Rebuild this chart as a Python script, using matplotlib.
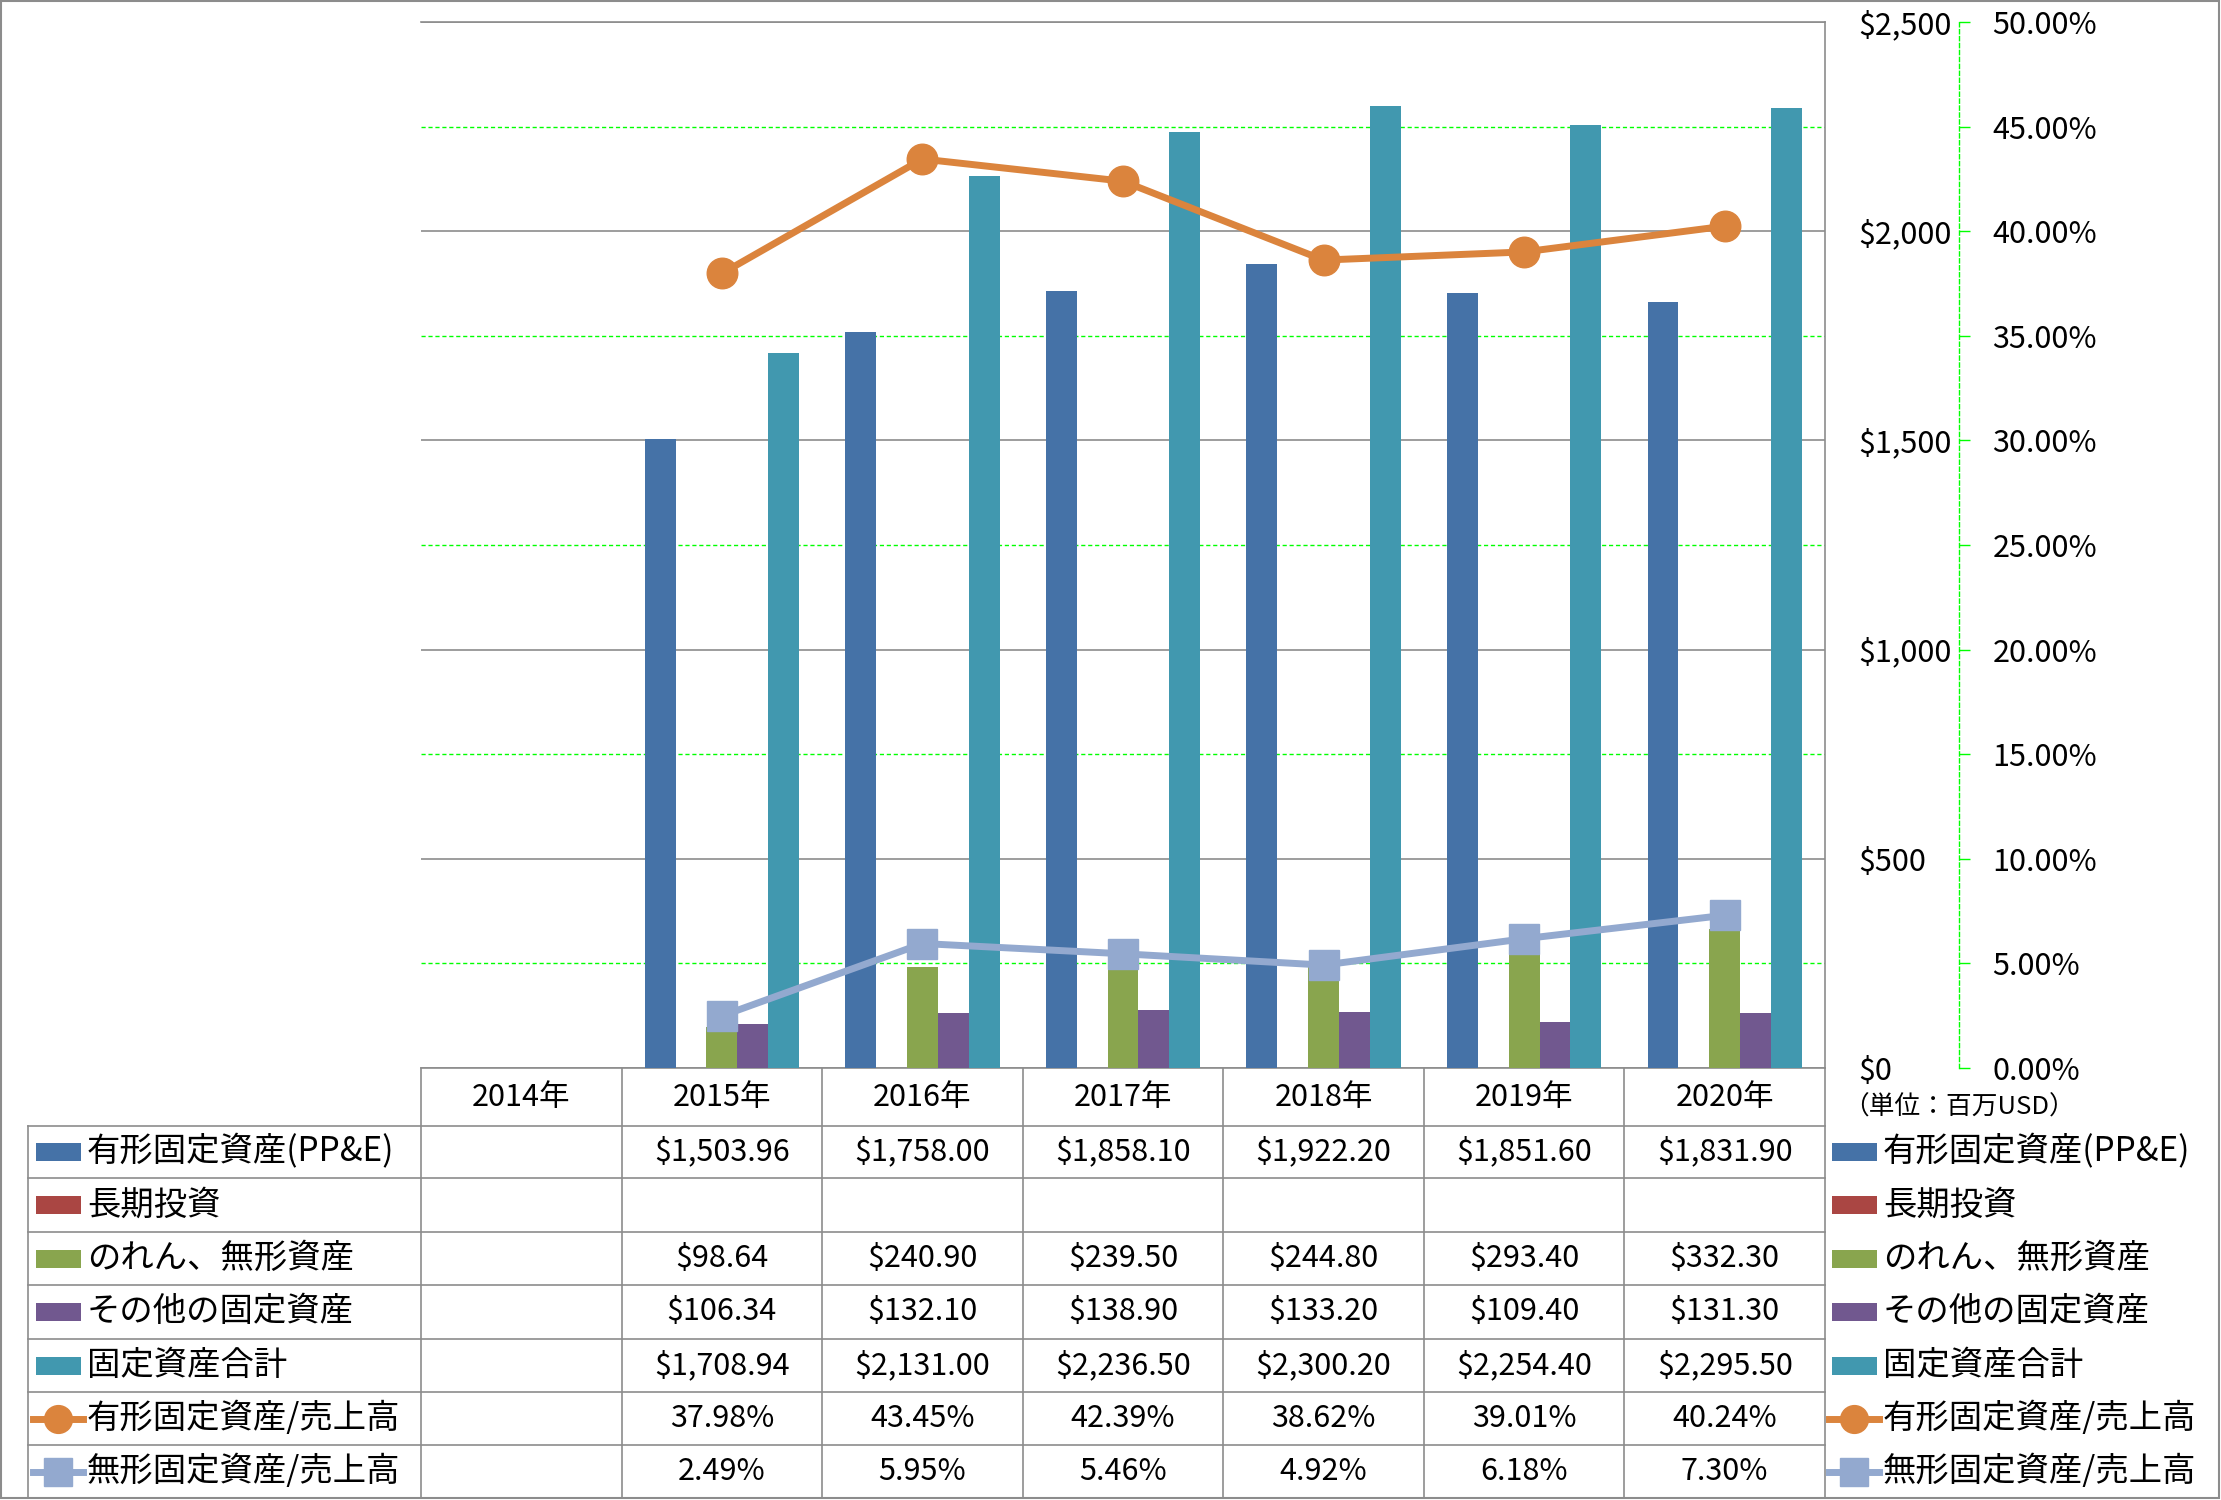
#固定資産の推移 - bar + line chart with Excel-style data table
import numpy as np
import matplotlib.pyplot as plt
from matplotlib import transforms
from matplotlib.patches import Rectangle

plt.rcParams['font.family'] = ['Noto Sans CJK JP', 'DejaVu Sans']

years = ["2014年", "2015年", "2016年", "2017年", "2018年", "2019年", "2020年"]

ppe = [np.nan, 1503.96, 1758.00, 1858.10, 1922.20, 1851.60, 1831.90]
lt_invest = [np.nan] * 7
goodwill = [np.nan, 98.64, 240.90, 239.50, 244.80, 293.40, 332.30]
other = [np.nan, 106.34, 132.10, 138.90, 133.20, 109.40, 131.30]
total = [np.nan, 1708.94, 2131.00, 2236.50, 2300.20, 2254.40, 2295.50]

ppe_ratio = [np.nan, 37.98, 43.45, 42.39, 38.62, 39.01, 40.24]
intang_ratio = [np.nan, 2.49, 5.95, 5.46, 4.92, 6.18, 7.30]

bar_names = ["有形固定資産(PP&E)", "長期投資", "のれん、無形資産", "その他の固定資産", "固定資産合計"]
bar_colors = ["#4572A7", "#AA4643", "#89A54E", "#71588F", "#4198AF"]
line_names = ["有形固定資産/売上高", "無形固定資産/売上高"]
line_colors = ["#DB843D", "#93A9CF"]
line_markers = ["o", "s"]

W, H = 2221, 1500
fig = plt.figure(figsize=(W / 100, H / 100), dpi=100)

grey = "#8C8C8C"
green = "#00FF00"

# plot area
ax = fig.add_axes([421 / W, (H - 1068) / H, (1825 - 421) / W, (1068 - 22) / H])
ax.set_xlim(-0.5, len(years) - 0.5)
ax.set_ylim(0, 2500)

x = np.arange(len(years))
bw = 1 / 6.5
series = [ppe, lt_invest, goodwill, other, total]
for k, (vals, c) in enumerate(zip(series, bar_colors)):
    ax.bar(x + (k - 2) * bw, vals, width=bw, color=c, zorder=3)

# grey grid on the $ axis, green dashed grid for the % axis in between
ax.set_yticks(np.arange(0, 2501, 500))
ax.grid(axis='y', color=grey, lw=1.2, zorder=1)
pct_grid = np.array([5, 15, 25, 35, 45])
ax.hlines(pct_grid * 2500 / 50, -0.5, len(years) - 0.5, colors=green,
          linestyles=(0, (3, 2)), lw=1.0, zorder=1)
ax.set_xticks([])
ax.spines['left'].set_visible(False)
for s in ['top', 'right', 'bottom']:
    ax.spines[s].set_color(grey)
    ax.spines[s].set_linewidth(1.2)

ax2 = ax.twinx()
ax2.set_ylim(0, 50)
ax2.set_yticks(np.arange(0, 51, 5))
ax2.set_yticklabels([f"{v:.2f}%" for v in np.arange(0, 51, 5)])
for s in ['left', 'top', 'bottom']:
    ax2.spines[s].set_visible(False)
ax2.spines['right'].set_position(('outward', 134 * 0.72))
ax2.spines['right'].set_color(green)
ax2.spines['right'].set_linestyle((0, (3, 2)))
ax2.spines['right'].set_linewidth(1.0)
ax2.tick_params(axis='y', direction='out', length=8, width=1, color=green,
                pad=16, labelsize=22)

ax.yaxis.tick_right()
ax.set_yticklabels([f"${v:,.0f}" for v in np.arange(0, 2501, 500)])
ax.tick_params(axis='y', length=0, pad=24, labelsize=22, labelright=True, labelleft=False)

for vals, c, m in zip([ppe_ratio, intang_ratio], line_colors, line_markers):
    ax2.plot(x, vals, color=c, lw=5, marker=m, markersize=22,
             markeredgecolor=c, zorder=4)

# overlay in pixel coords for table, legend and frame
ov = fig.add_axes([0, 0, 1, 1], zorder=-1)
ov.set_xlim(0, W)
ov.set_ylim(H, 0)
ov.axis('off')
ov.add_patch(Rectangle((1, 1), W - 3, H - 3, fill=False, ec=grey, lw=1.5))

bt = transforms.blended_transform_factory(ax.transData, ov.transData)
rows = [1068, 1126, 1178, 1232, 1285, 1339, 1392, 1445, 1498]
tab_left = 28

# column lines
for b in np.arange(len(years) + 1) - 0.5:
    ov.plot([b, b], [rows[0], rows[-1]], color=grey, lw=1.2, transform=bt)
ov.plot([tab_left, tab_left], [rows[1], rows[-1]], color=grey, lw=1.2)
for r in rows[1:]:
    ov.plot([tab_left, 1825], [r, r], color=grey, lw=1.2)

# header
for i, yr in enumerate(years):
    ov.text(i, (rows[0] + rows[1]) / 2, yr, transform=bt, ha='center',
            va='center', fontsize=22)


def fmt(vals, pct=False):
    if pct:
        return [f"{v:.2f}%" if not np.isnan(v) else "" for v in vals]
    return [f"${v:,.2f}" if not np.isnan(v) else "" for v in vals]


row_vals = [fmt(ppe), fmt(lt_invest), fmt(goodwill), fmt(other), fmt(total),
            fmt(ppe_ratio, True), fmt(intang_ratio, True)]
names = bar_names + line_names
centers = [(rows[j] + rows[j + 1]) / 2 for j in range(1, 8)]


def legend_key(xc, yc, j):
    if j < 5:
        ov.add_patch(Rectangle((xc - 22, yc - 9), 45, 18, color=bar_colors[j], lw=0))
    else:
        c = line_colors[j - 5]
        ov.plot([xc - 25, xc + 25], [yc, yc], color=c, lw=5)
        ov.plot([xc], [yc], marker=line_markers[j - 5], color=c, markersize=20, mec=c)


for j, (yc, name, vals) in enumerate(zip(centers, names, row_vals)):
    legend_key(58, yc, j)
    ov.text(87, yc, name, ha='left', va='center', fontsize=24)
    for i, t in enumerate(vals):
        ov.text(i, yc, t, transform=bt, ha='center', va='center', fontsize=22)
    # right legend
    legend_key(1854, yc, j)
    ov.text(1883, yc, name, ha='left', va='center', fontsize=24)

ov.text(1959, 1108, "（単位：百万USD）", ha='center', va='center', fontsize=18.5)

fig.savefig("out.png", dpi=100)
